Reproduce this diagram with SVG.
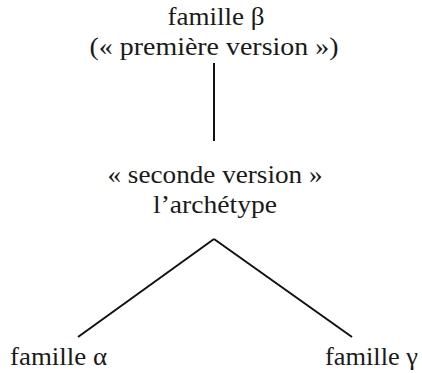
<svg xmlns="http://www.w3.org/2000/svg" width="422" height="373" viewBox="0 0 422 373">
<style>
text{font-family:"Liberation Serif","DejaVu Serif",serif;font-size:26px;fill:#1a1a1a}
.c{text-anchor:middle}
line{stroke:#111;stroke-width:2;fill:none}
</style>
<rect width="422" height="373" fill="#fff"/>
<g id="connectors">
<line x1="214" y1="63" x2="214" y2="141"/>
<line x1="214" y1="239" x2="78" y2="337"/>
<line x1="214" y1="239" x2="352" y2="337"/>
</g>
<g id="beta"><text class="c" x="216" y="25" textLength="97" lengthAdjust="spacingAndGlyphs">famille β</text><text class="c" x="214" y="55" textLength="249" lengthAdjust="spacingAndGlyphs">(« première version »)</text></g>
<g id="archetype"><text class="c" x="215" y="183" textLength="215" lengthAdjust="spacingAndGlyphs">« seconde version »</text><text class="c" x="215" y="213" textLength="124" lengthAdjust="spacingAndGlyphs">l’archétype</text></g>
<g id="alpha"><text x="10" y="365" textLength="97" lengthAdjust="spacingAndGlyphs">famille α</text></g>
<g id="gamma"><text x="325" y="365" textLength="93" lengthAdjust="spacingAndGlyphs">famille γ</text></g>
</svg>
